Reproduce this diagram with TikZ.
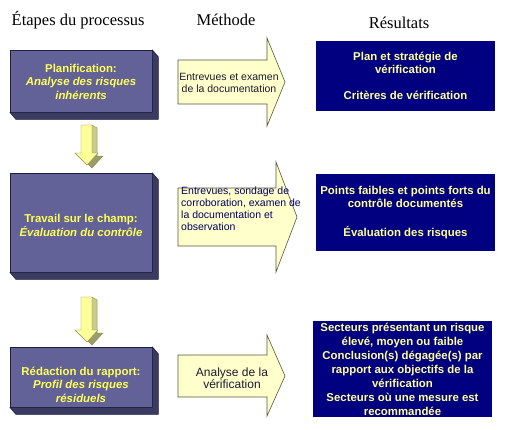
\documentclass[tikz,border=0pt]{standalone}
\usepackage{fontspec}
\setmainfont{Liberation Serif}
\newfontfamily\arialf{Liberation Sans}
\usetikzlibrary{calc}
\definecolor{boxfront}{HTML}{626299}
\definecolor{boxside}{HTML}{3A3A62}
\definecolor{boxedge}{HTML}{1E1E3C}
\definecolor{navyres}{HTML}{000080}
\definecolor{restext}{HTML}{FFFF99}
\definecolor{steptext}{HTML}{FFFF55}
\definecolor{arrowfill}{HTML}{FFFFCC}
\definecolor{arrowedge}{HTML}{55553F}
\definecolor{methtext}{HTML}{1A1A30}
\definecolor{methtextb}{HTML}{000060}
\definecolor{dnfront}{HTML}{FFFF99}
\definecolor{dnside}{HTML}{CCCC88}
\definecolor{dnbottom}{HTML}{9C9C66}
\definecolor{dnedge}{HTML}{8C8C55}
\tikzset{
  header/.style={font=\fontsize{16.5}{20}\selectfont, inner sep=0pt, anchor=base},
  stepfront/.style={fill=boxfront, draw=boxedge, line width=0.5pt, inner sep=0pt},
  stepside/.style={fill=boxside, draw=boxedge, line width=0.5pt, line join=round},
  steplabel/.style={text=steptext, font=\arialf\bfseries\fontsize{11.4}{13.5}\selectfont, align=center, inner sep=0pt},
  resbox/.style={fill=navyres, inner sep=0pt, text=restext, font=\arialf\bfseries\fontsize{11.4}{12.8}\selectfont, align=center, minimum width=179pt},
  blockarrow/.style={fill=arrowfill, draw=arrowedge, line width=0.6pt, line join=miter},
  methlabel/.style={inner sep=0pt, font=\arialf\fontsize{10.5}{12}\selectfont, text=methtext},
  dnbot/.style={fill=dnbottom, draw=dnedge, line width=0.4pt},
  dnsid/.style={fill=dnside, draw=dnedge, line width=0.4pt},
  dnfr/.style={fill=dnfront, draw=dnedge, line width=0.4pt, line join=miter}
}
\begin{document}
\begin{tikzpicture}[x=1pt,y=-1pt]
\useasboundingbox[fill=white] (0,0) rectangle (505,429);

% headers
\node[header, anchor=base west] (h1) at (11.5,25.5) {Étapes du processus};
\node[header] (h2) at (226,25.5) {Méthode};
\node[header] (h3) at (399,28) {Résultats};

% step boxes (3D)
\node[stepfront, minimum width=142pt, minimum height=62pt] (s1) at (81,81) {};
\node[stepfront, minimum width=142pt, minimum height=99pt] (s2) at (81,222.5) {};
\node[stepfront, minimum width=142pt, minimum height=60pt] (s3) at (81,377) {};
\foreach \s in {s1,s2,s3}{
  \draw[stepside] (\s.north east) -- ++(6,7) -- ($(\s.south east)+(6,7)$) -- ($(\s.south west)+(6,7)$) -- (\s.south west) -- (\s.south east) -- cycle;
}
\node[steplabel] (t1) at (81,81.5) {Planification:\\{\itshape Analyse des risques}\\{\itshape inhérents}};
\node[steplabel] (t2) at (81,225.5) {Travail sur le champ:\\{\itshape Évaluation du contrôle}};
\node[steplabel] (t3) at (81,384.5) {Rédaction du rapport:\\{\itshape Profil des risques}\\{\itshape résiduels}};

% down arrows
\begin{scope}[shift={(5,3)}]
  \draw[dnbot] (81,125) -- (92,125) -- (92,153) -- (98,153) -- (87,165) -- (75,153) -- (81,153) -- cycle;
\end{scope}
\draw[dnsid] (92,125) -- (97,128) -- (97,156) -- (92,153) -- cycle;
\draw[dnfr] (81,125) -- (92,125) -- (92,153) -- (98,153) -- (87,165) -- (75,153) -- (81,153) -- cycle;

\begin{scope}[shift={(5,3)}]
  \draw[dnbot] (81,297) -- (92,297) -- (92,330) -- (98,330) -- (87,342) -- (75,330) -- (81,330) -- cycle;
\end{scope}
\draw[dnsid] (92,297) -- (97,300) -- (97,333) -- (92,330) -- cycle;
\draw[dnfr] (81,297) -- (92,297) -- (92,330) -- (98,330) -- (87,342) -- (75,330) -- (81,330) -- cycle;

% method arrows
\draw[blockarrow] (178,60) -- (267,60) -- (267,38) -- (285,82) -- (267,126) -- (267,104) -- (178,104) -- cycle;
\draw[blockarrow] (178,188) -- (276,188) -- (276,162) -- (297,217) -- (276,272) -- (276,246) -- (178,246) -- cycle;
\draw[blockarrow] (178,355) -- (267,355) -- (267,335) -- (285,376) -- (267,416) -- (267,397) -- (178,397) -- cycle;

\node[methlabel, align=center] (m1) at (229,83) {Entrevues et examen\\de la documentation};
\node[methlabel, align=left, anchor=west, text=methtextb] (m2) at (181,209) {Entrevues, sondage de\\corroboration, examen de\\la documentation et\\observation};
\node[methlabel, align=center, font=\arialf\fontsize{12}{12.5}\selectfont] (m3) at (232,378) {Analyse de la\\vérification};

% result boxes
\node[resbox, minimum height=70pt] (r1) at (405.5,76) {Plan et stratégie de\\vérification\\[13pt]Critères de vérification};
\node[resbox, minimum height=77pt] (r2) at (405.5,212.5) {Points faibles et points forts du\\contrôle documentés\\[16pt]Évaluation des risques};
\node[resbox, minimum height=96pt, font=\arialf\bfseries\fontsize{11.4}{14}\selectfont] (r3) at (402.5,369) {Secteurs présentant un risque\\élevé, moyen ou faible\\Conclusion(s) dégagée(s) par\\rapport aux objectifs de la\\vérification\\Secteurs où une mesure est\\recommandée};
\end{tikzpicture}
\end{document}
